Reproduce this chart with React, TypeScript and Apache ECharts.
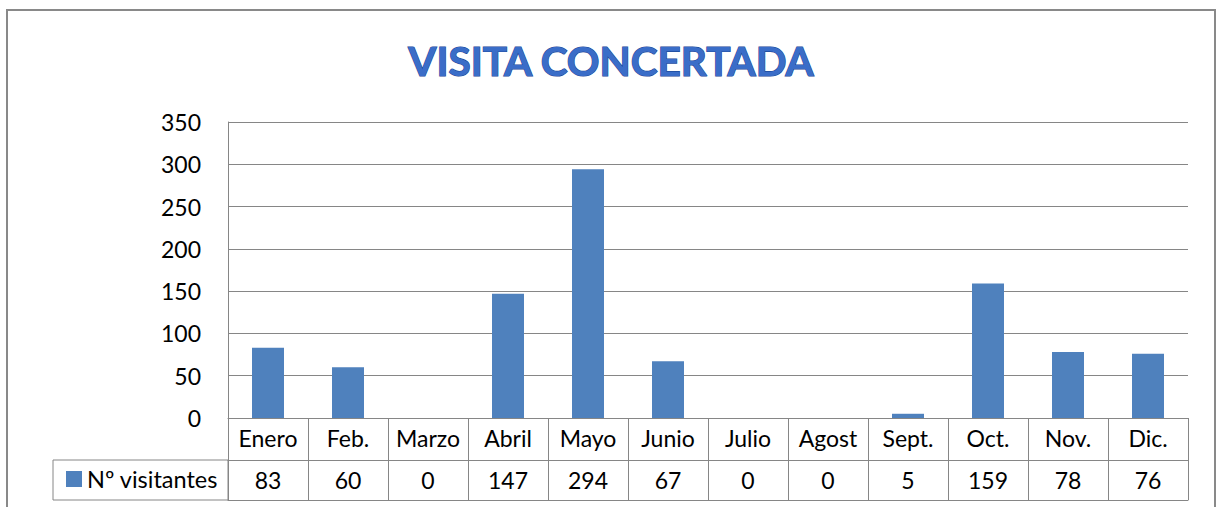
import React, { useEffect, useRef } from "react";
import * as echarts from "echarts";

const categories = ["Enero", "Feb.", "Marzo", "Abril", "Mayo", "Junio", "Julio", "Agost", "Sept.", "Oct.", "Nov.", "Dic."];
const visitors = [83, 60, 0, 147, 294, 67, 0, 0, 5, 159, 78, 76];
const seriesName = "Nº visitantes";
const titleText = "VISITA CONCERTADA";

const FONT = "Lato, 'Open Sans', sans-serif";
const GRAY = "#868686";

export default function App() {
  const ref = useRef<HTMLDivElement>(null);
  useEffect(() => {
    if (!ref.current) return;
    const chart = echarts.init(ref.current, undefined, { renderer: "svg" });
    const commonX = {
      type: "category" as const,
      data: categories,
      position: "bottom" as const,
      boundaryGap: true,
      splitLine: { show: false },
    };
    chart.setOption({
      animation: false,
      backgroundColor: "#ffffff",
      textStyle: { fontFamily: FONT },
      grid: { left: 228, right: 30, top: 122, bottom: 89, containLabel: false },
      legend: {
        show: true,
        left: 61,
        top: 462,
        icon: "rect",
        itemWidth: 16,
        itemHeight: 16,
        itemGap: 6,
        selectedMode: false,
        textStyle: { fontFamily: FONT, fontSize: 23.5, color: "#000" },
        data: [seriesName],
      },
      xAxis: [
        {
          ...commonX,
          axisLine: { show: true, lineStyle: { color: GRAY, width: 1 } },
          axisTick: { show: true, interval: 0, length: 82, lineStyle: { color: GRAY, width: 1 } },
          axisLabel: {
            show: true,
            interval: 0,
            margin: 20,
            verticalAlign: "middle",
            fontFamily: FONT,
            fontSize: 23,
            color: "#000",
          },
        },
        {
          ...commonX,
          offset: 42,
          axisLine: { show: true, lineStyle: { color: GRAY, width: 1 } },
          axisTick: { show: false },
          axisLabel: {
            show: true,
            interval: 0,
            margin: 20,
            verticalAlign: "middle",
            fontFamily: FONT,
            fontSize: 23,
            color: "#000",
            formatter: (_v: string, i: number) => String(visitors[i]),
          },
        },
        {
          ...commonX,
          offset: 82,
          axisLine: { show: true, lineStyle: { color: GRAY, width: 1 } },
          axisTick: { show: false },
          axisLabel: { show: false },
        },
      ],
      yAxis: {
        type: "value",
        min: 0,
        max: 350,
        interval: 50,
        axisLine: { show: true, lineStyle: { color: GRAY, width: 1 } },
        axisTick: { show: false },
        splitLine: { show: true, lineStyle: { color: GRAY, width: 1 } },
        axisLabel: { margin: 27, fontFamily: FONT, fontSize: 23, color: "#000" },
      },
      series: [
        {
          name: seriesName,
          type: "bar",
          xAxisIndex: 0,
          data: visitors,
          barWidth: 32,
          itemStyle: { color: "#4F81BD" },
        },
      ],
      graphic: [
        {
          type: "rect",
          shape: { x: 7, y: 10, width: 1208, height: 520 },
          style: { fill: "none", stroke: "#898989", lineWidth: 2 },
          silent: true,
        },
        {
          type: "rect",
          shape: { x: 53, y: 460, width: 175, height: 40 },
          style: { fill: "none", stroke: GRAY, lineWidth: 1 },
          silent: true,
        },
        {
          type: "text",
          x: 611,
          y: 60,
          style: {
            text: titleText,
            fontFamily: FONT,
            fontWeight: "bold",
            fontSize: 40.5,
            align: "center",
            verticalAlign: "middle",
            fill: "#3a6dc8",
            stroke: "#1c4796",
            lineWidth: 1.2,
            shadowColor: "rgba(0,0,0,0.35)",
            shadowBlur: 3,
            shadowOffsetX: 1,
            shadowOffsetY: 2,
          },
          silent: true,
        },
      ],
    });
    return () => chart.dispose();
  }, []);
  return (
    <div
      ref={ref}
      style={{ position: "fixed", left: 0, top: 0, width: 1218, height: 507 }}
    />
  );
}
